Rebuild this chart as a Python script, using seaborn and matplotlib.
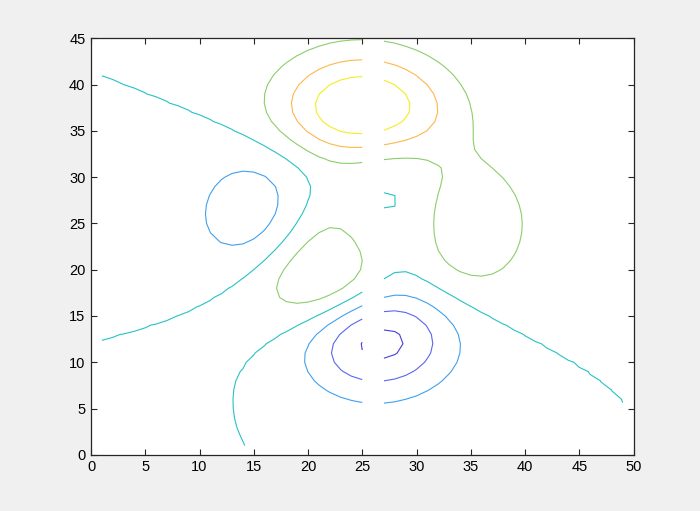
import matplotlib
matplotlib.use("Agg")
import matplotlib.pyplot as plt
import numpy as np
import seaborn as sns

# grid (columns 1..49, rows 1..45) of the MATLAB "peaks" surface, centre column blanked
x_cols = np.arange(1, 50)
y_rows = np.arange(1, 46)
grid_step = 8.0          # grid points per unit of the peaks domain
grid_centre = 25         # column / row that maps to 0
blank_column = 26

levels = [-6, -4, -2, 0, 2, 4, 6]
level_colors = ["#4a3ddc", "#5a66ee", "#3fa0f0", "#27c2c4", "#8ccd6c", "#fdb84c", "#f4ec22"]

x_ticks = [0, 5, 10, 15, 20, 25, 30, 35, 40, 45, 50]
y_ticks = [0, 5, 10, 15, 20, 25, 30, 35, 40, 45]


def peaks(u, v):
    return (3 * (1 - u) ** 2 * np.exp(-u ** 2 - (v + 1) ** 2)
            - 10 * (u / 5 - u ** 3 - v ** 5) * np.exp(-u ** 2 - v ** 2)
            - 1 / 3 * np.exp(-(u + 1) ** 2 - v ** 2))


def main():
    sns.set_theme(style="ticks")
    plt.rcParams["font.family"] = ["Liberation Sans", "DejaVu Sans"]

    xx, yy = np.meshgrid(x_cols, y_rows)
    zz = peaks((xx - grid_centre) / grid_step, (yy - grid_centre) / grid_step)
    zz[:, x_cols == blank_column] = np.nan

    fig = plt.figure(figsize=(7.0, 5.11), dpi=100, facecolor="#f0f0f0")
    ax = fig.add_axes([0.13, 0.11, 0.775, 0.815])
    ax.set_facecolor("white")

    ax.contour(xx, yy, zz, levels=levels, colors=level_colors, linewidths=0.8)

    ax.set_xlim(0, 50)
    ax.set_ylim(0, 45)
    ax.set_xticks(x_ticks)
    ax.set_yticks(y_ticks)
    ax.tick_params(direction="in", top=True, right=True, length=4, width=0.8,
                   labelsize=10.5, colors="#262626", labelcolor="black", pad=4)
    for s in ax.spines.values():
        s.set_color("#262626")
        s.set_linewidth(0.9)

    fig.savefig("out.png", dpi=100, facecolor=fig.get_facecolor())
    plt.close(fig)


if __name__ == "__main__":
    main()
